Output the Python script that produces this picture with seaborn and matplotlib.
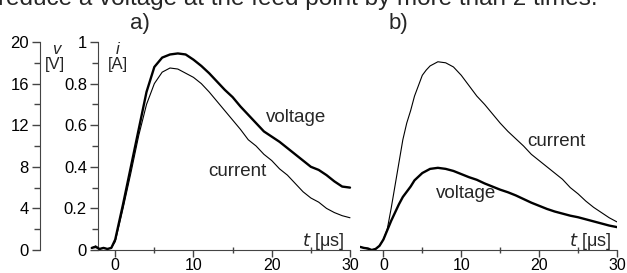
import matplotlib
matplotlib.use('Agg')
import matplotlib.pyplot as plt
import seaborn as sns
from matplotlib.ticker import MultipleLocator

# ── Data ────────────────────────────────────────────────
# panel a)
t_a_cur = [-3, -2.5, -2, -1.5, -1, -0.5, 0, 1, 2, 3, 4, 5, 6, 7, 8, 9, 10,
           11, 12, 13, 14, 15, 16, 17, 18, 19, 20, 21, 22, 23, 24, 25, 26,
           27, 28, 29, 30]
i_a = [0.01, 0.02, 0.005, 0.01, 0.005, 0.01, 0.04, 0.20, 0.37, 0.55, 0.70,
       0.80, 0.855, 0.875, 0.87, 0.85, 0.83, 0.80, 0.76, 0.715, 0.67, 0.625,
       0.58, 0.53, 0.50, 0.46, 0.43, 0.39, 0.36, 0.32, 0.28, 0.25, 0.23,
       0.20, 0.18, 0.165, 0.155]

t_a_vol = [-3, -2.5, -2, -1.5, -1, -0.5, 0, 1, 2, 3, 4, 5, 6, 7, 8, 9, 10,
           11, 12, 13, 14, 15, 16, 17, 18, 19, 20, 21, 22, 23, 24, 25, 26,
           27, 28, 29, 30]
v_a = [0.2, 0.3, 0.1, 0.2, 0.1, 0.2, 1.0, 4.4, 8.0, 11.6, 15.2, 17.6, 18.5,
       18.8, 18.9, 18.8, 18.3, 17.7, 17.0, 16.2, 15.4, 14.7, 13.8, 13.0,
       12.2, 11.4, 10.9, 10.4, 9.8, 9.2, 8.6, 8.0, 7.7, 7.2, 6.6, 6.1, 6.0]

# panel b)
t_b = [-3, -2.5, -2, -1.5, -1, -0.5, 0, 0.5, 1, 1.5, 2, 2.5, 3, 3.5, 4, 5,
       5.5, 6, 7, 8, 9, 10, 11, 12, 13, 14, 15, 16, 17, 18, 19, 20, 21, 22,
       23, 24, 25, 26, 27, 28, 29, 30]
i_b = [0.015, 0.01, 0.005, 0.0, 0.005, 0.02, 0.05, 0.10, 0.20, 0.31, 0.42,
       0.53, 0.61, 0.67, 0.74, 0.84, 0.865, 0.885, 0.905, 0.90, 0.88, 0.84,
       0.79, 0.74, 0.70, 0.655, 0.61, 0.57, 0.535, 0.50, 0.46, 0.43, 0.40,
       0.37, 0.34, 0.30, 0.27, 0.235, 0.205, 0.18, 0.155, 0.135]
v_b = [0.3, 0.2, 0.15, 0.0, 0.1, 0.4, 1.0, 1.9, 2.8, 3.6, 4.4, 5.1, 5.6,
       6.1, 6.7, 7.4, 7.6, 7.8, 7.9, 7.8, 7.6, 7.3, 7.0, 6.75, 6.4, 6.1,
       5.8, 5.55, 5.25, 4.9, 4.55, 4.25, 3.95, 3.7, 3.5, 3.3, 3.15, 2.95,
       2.75, 2.55, 2.35, 2.2]

v_ticks = [0, 4, 8, 12, 16, 20]
i_ticks = [0, 0.2, 0.4, 0.6, 0.8, 1]
i_labels = ['0', '0.2', '0.4', '0.6', '0.8', '1']
t_ticks = [0, 10, 20, 30]

sns.set_style('white')
plt.rcParams['font.family'] = ['Liberation Sans', 'DejaVu Sans']
plt.rcParams['font.size'] = 12

W, H = 627, 273
fig = plt.figure(figsize=(W / 100, H / 100), dpi=100)


def box(x0, x1, ytop, ybot):
    return [x0 / W, 1 - ybot / H, (x1 - x0) / W, (ybot - ytop) / H]


THICK, THIN = 1.7, 0.8

# ── Panel a) ─────────────────────────────────────────────
ax_a = fig.add_axes(box(98, 350, 42, 250))
ax_av = ax_a.twinx()
sns.lineplot(x=t_a_cur, y=i_a, ax=ax_a, color='black', lw=THIN,
             clip_on=False, sort=False)
sns.lineplot(x=t_a_vol, y=v_a, ax=ax_av, color='black', lw=THICK,
             clip_on=False, sort=False)
ax_a.set_xlim(-2.2, 30)
ax_a.set_ylim(0, 1)
ax_av.set_ylim(0, 20)

# ── Panel b) ─────────────────────────────────────────────
ax_b = fig.add_axes(box(360, 617, 42, 250))
ax_bv = ax_b.twinx()
sns.lineplot(x=t_b, y=i_b, ax=ax_b, color='black', lw=THIN, sort=False)
sns.lineplot(x=t_b, y=v_b, ax=ax_bv, color='black', lw=THICK, sort=False)
ax_b.set_xlim(-3, 30)
ax_b.set_ylim(0, 1)
ax_bv.set_ylim(0, 20)

for ax in (ax_a, ax_av, ax_b, ax_bv):
    ax.patch.set_visible(False)
    for s in ax.spines.values():
        s.set_visible(False)
    ax.set_xlabel('')
    ax.set_ylabel('')

# x axes
for ax in (ax_a, ax_b):
    ax.spines['bottom'].set_visible(True)
    ax.spines['bottom'].set_color('#444444')
    ax.set_xticks(t_ticks)
    ax.set_xticklabels([str(t) for t in t_ticks])
    ax.xaxis.set_minor_locator(MultipleLocator(5))
    ax.tick_params(axis='x', which='major', direction='out', length=5,
                   width=1, colors='#444444', labelcolor='black', pad=1,
                   bottom=True, labelbottom=True, labelsize=11.5)
    ax.tick_params(axis='x', which='minor', direction='inout', length=5,
                   width=1, colors='#444444', bottom=True)
for ax in (ax_av, ax_bv):
    ax.tick_params(axis='x', which='both', bottom=False, top=False,
                   labelbottom=False, labeltop=False)

# current axis (panel a)
ax_a.spines['left'].set_visible(True)
ax_a.spines['left'].set_color('#444444')
ax_a.set_yticks(i_ticks)
ax_a.set_yticklabels(i_labels)
ax_a.yaxis.set_minor_locator(MultipleLocator(0.1))
ax_a.tick_params(axis='y', which='both', direction='out', left=True,
                 colors='#444444', labelcolor='black', width=1, pad=2)
ax_a.tick_params(axis='y', which='major', length=6)
ax_a.tick_params(axis='y', which='minor', length=4)

# voltage axis (panel a)
ax_av.spines['left'].set_visible(True)
ax_av.spines['left'].set_color('#444444')
ax_av.spines['left'].set_position(('axes', -58 / 252))
ax_av.yaxis.set_ticks_position('left')
ax_av.yaxis.set_label_position('left')
ax_av.set_yticks(v_ticks)
ax_av.set_yticklabels([str(v) for v in v_ticks])
ax_av.yaxis.set_minor_locator(MultipleLocator(2))
ax_av.tick_params(axis='y', which='both', direction='out', left=True,
                  right=False, colors='#444444', labelcolor='black',
                  width=1, pad=2)
ax_av.tick_params(axis='y', which='major', length=6)
ax_av.tick_params(axis='y', which='minor', length=4)

ax_b.tick_params(axis='y', which='both', left=False, labelleft=False)
ax_bv.tick_params(axis='y', which='both', right=False, labelright=False)

# ── Texts ────────────────────────────────────────────────
def px(x, y, s, **kw):
    fig.text(x / W, 1 - y / H, s, **kw)


# first line of the page, cut by the top edge as in the source
px(-2, 5, 'reduce a voltage at the feed point by more than 2 times.',
   fontsize=17.5, va='baseline', ha='left')
px(140, 24, 'a)', fontsize=16, ha='center', va='center')
px(398, 24, 'b)', fontsize=16, ha='center', va='center')

px(56, 50, 'v', fontsize=12, style='italic', ha='center', va='center')
px(55, 65, '[V]', fontsize=12, ha='center', va='center')
px(118, 50, 'i', fontsize=12, style='italic', ha='center', va='center')
px(118, 65, '[A]', fontsize=12, ha='center', va='center')

px(296, 118, 'voltage', fontsize=13.5, ha='center', va='center')
px(237, 172, 'current', fontsize=13.5, ha='center', va='center')
px(556, 142, 'current', fontsize=13.5, ha='center', va='center')
px(466, 193, 'voltage', fontsize=13.5, ha='center', va='center')

for xr in (344, 611):
    fig.text(xr / W, 1 - 241 / H, r'$\it{t}$ [μs]', fontsize=13,
             ha='right', va='center')

fig.savefig('out.png', dpi=100)
